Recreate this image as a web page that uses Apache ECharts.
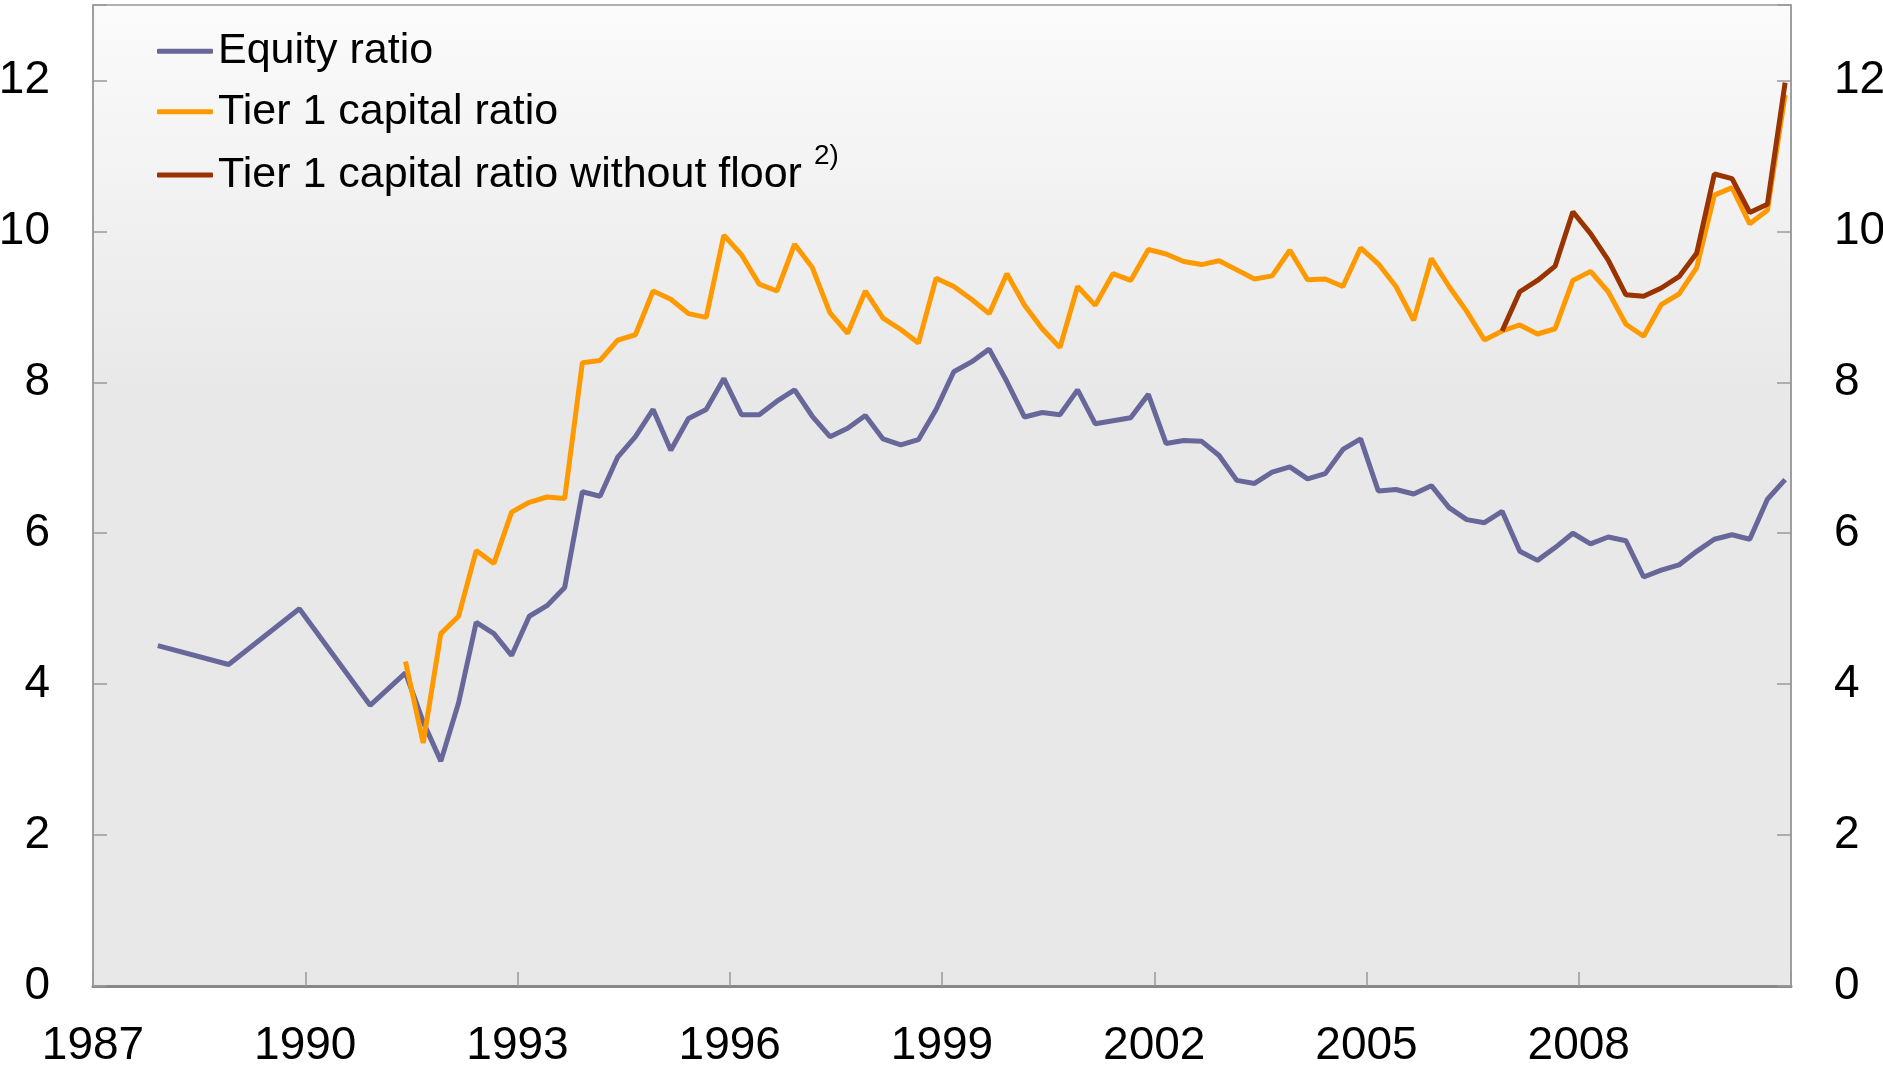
<!DOCTYPE html>
<html>
<head>
<meta charset="utf-8">
<title>Equity and Tier 1 capital ratio</title>
<script src="https://cdn.jsdelivr.net/npm/echarts@6/dist/echarts.min.js"></script>
<style>
  html, body { margin: 0; padding: 0; background: #fff; }
  #chart { width: 1883px; height: 1067px; }
</style>
</head>
<body>
<div id="chart"></div>
<script>
// year-end figures before the quarterly series starts
var equityAnnualDates = ['1987-12', '1988-12', '1989-12', '1990-12'];
var equityAnnual = [4.51, 4.26, 5.00, 3.72];

// quarterly figures, Jun 1991 - Dec 2010
var quarterDates = [];
for (var y = 1991; y <= 2010; y++) {
  ['03', '06', '09', '12'].forEach(function (m) {
    if (y === 1991 && m === '03') return;
    quarterDates.push(y + '-' + m);
  });
}

var equityRatio = [
  4.15, 3.50, 2.98,
  3.75, 4.82, 4.67, 4.38,
  4.90, 5.04, 5.28, 6.55,
  6.49, 7.01, 7.28, 7.64,
  7.10, 7.52, 7.64, 8.05,
  7.57, 7.57, 7.75, 7.90,
  7.55, 7.28, 7.39, 7.56,
  7.25, 7.17, 7.24, 7.64,
  8.14, 8.27, 8.44, 8.01,
  7.54, 7.60, 7.57, 7.90,
  7.45, 7.49, 7.53, 7.84,
  7.19, 7.23, 7.22, 7.03,
  6.70, 6.66, 6.81, 6.88,
  6.72, 6.79, 7.11, 7.25,
  6.56, 6.58, 6.52, 6.63,
  6.34, 6.18, 6.14, 6.29,
  5.76, 5.64, 5.81, 6.00,
  5.86, 5.95, 5.90, 5.42,
  5.51, 5.58, 5.76, 5.92,
  5.98, 5.92, 6.45, 6.71
];

var tier1Ratio = [
  4.30, 3.22, 4.67,
  4.90, 5.77, 5.60, 6.28,
  6.41, 6.48, 6.46, 8.26,
  8.29, 8.56, 8.63, 9.21,
  9.10, 8.91, 8.86, 9.95,
  9.69, 9.30, 9.21, 9.83,
  9.52, 8.92, 8.65, 9.21,
  8.85, 8.70, 8.52, 9.38,
  9.27, 9.10, 8.91, 9.44,
  9.02, 8.71, 8.46, 9.27,
  9.02, 9.44, 9.35, 9.76,
  9.70, 9.60, 9.56, 9.61,
  9.49, 9.37, 9.41, 9.75,
  9.36, 9.37, 9.27, 9.78,
  9.57, 9.27, 8.82, 9.64,
  9.27, 8.94, 8.56, 8.68,
  8.76, 8.64, 8.71, 9.35,
  9.47, 9.20, 8.77, 8.61,
  9.03, 9.17, 9.52, 10.48,
  10.58, 10.10, 10.28, 11.81
];

// without floor, Dec 2006 - Dec 2010
var noFloorDates = quarterDates.slice(quarterDates.indexOf('2006-12'));
var tier1NoFloor = [
  8.68,
  9.20, 9.35, 9.54, 10.26,
  9.97, 9.62, 9.16, 9.14,
  9.25, 9.40, 9.71, 10.76,
  10.70, 10.25, 10.36, 11.97
];

var seriesNames = ['Equity ratio', 'Tier 1 capital ratio', 'Tier 1 capital ratio without floor'];
var seriesColors = ['#67679a', '#ff9900', '#993300'];
var startYear = 1987;

// months are placed on the axis at (month - 1) / 12, counted from 1987
function toX(d) {
  var p = d.split('-');
  return (+p[0] - startYear) + (+p[1] - 1) / 12;
}
function pairs(dates, vals) {
  return dates.map(function (d, i) { return [toX(d), vals[i]]; });
}

var myChart = echarts.init(document.getElementById('chart'));
var font = 'Liberation Sans, Arial, sans-serif';

// axis runs to 13, labels stop at 12
var yAxisBase = {
  type: 'value',
  min: 0,
  max: 13,
  interval: 2,
  axisLine: { show: true, lineStyle: { color: '#999', width: 1.5 } },
  axisTick: { show: true, inside: true, length: 14, lineStyle: { color: '#999', width: 1.5 } },
  splitLine: { show: false },
  axisLabel: {
    fontSize: 46,
    color: '#000',
    fontFamily: font,
    margin: 43,
    formatter: function (v) { return v > 12 ? '' : String(v); }
  }
};

var option = {
  animation: false,
  backgroundColor: '#fff',
  grid: {
    left: 93,
    right: 92,
    top: 5,
    bottom: 81,
    outerBoundsMode: 'none',
    containLabel: false,
    show: true,
    borderColor: '#999',
    borderWidth: 1.5,
    backgroundColor: new echarts.graphic.LinearGradient(0, 0, 0, 1, [
      { offset: 0, color: '#fbfbfb' },
      { offset: 0.4, color: '#e8e8e8' },
      { offset: 1, color: '#e8e8e8' }
    ])
  },
  legend: {
    orient: 'vertical',
    left: 157,
    top: 21,
    padding: 0,
    itemGap: 0,
    itemWidth: 56,
    itemHeight: 5,
    icon: 'roundRect',
    data: seriesNames,
    textStyle: {
      fontSize: 43,
      lineHeight: 60.5,
      color: '#000',
      fontFamily: font,
      rich: {
        sup: { fontSize: 28, fontFamily: font, color: '#000', padding: [0, 0, 38, 0] }
      }
    },
    formatter: function (name) {
      return name === seriesNames[2] ? name + ' {sup|2)}' : name;
    }
  },
  xAxis: {
    type: 'value',
    min: 0,
    max: 24,
    interval: 3,
    axisLine: { show: true, onZero: false, lineStyle: { color: '#888', width: 3 } },
    axisTick: { show: true, inside: true, length: 14, lineStyle: { color: '#999', width: 1.5 } },
    splitLine: { show: false },
    axisLabel: {
      fontSize: 46,
      color: '#000',
      fontFamily: font,
      margin: 37,
      formatter: function (v) { return v >= 24 ? '' : String(startYear + v); }
    }
  },
  yAxis: [
    Object.assign({ position: 'left' }, yAxisBase),
    Object.assign({ position: 'right' }, yAxisBase)
  ],
  series: [
    {
      name: seriesNames[0],
      type: 'line',
      symbol: 'none',
      color: seriesColors[0],
      lineStyle: { width: 5 },
      data: pairs(equityAnnualDates, equityAnnual).concat(pairs(quarterDates, equityRatio))
    },
    {
      name: seriesNames[1],
      type: 'line',
      symbol: 'none',
      color: seriesColors[1],
      lineStyle: { width: 5 },
      data: pairs(quarterDates, tier1Ratio)
    },
    {
      name: seriesNames[2],
      type: 'line',
      symbol: 'none',
      color: seriesColors[2],
      lineStyle: { width: 5 },
      data: pairs(noFloorDates, tier1NoFloor)
    }
  ]
};

myChart.setOption(option);
window.onresize = function () {
  myChart.resize();
};
</script>
</body>
</html>
